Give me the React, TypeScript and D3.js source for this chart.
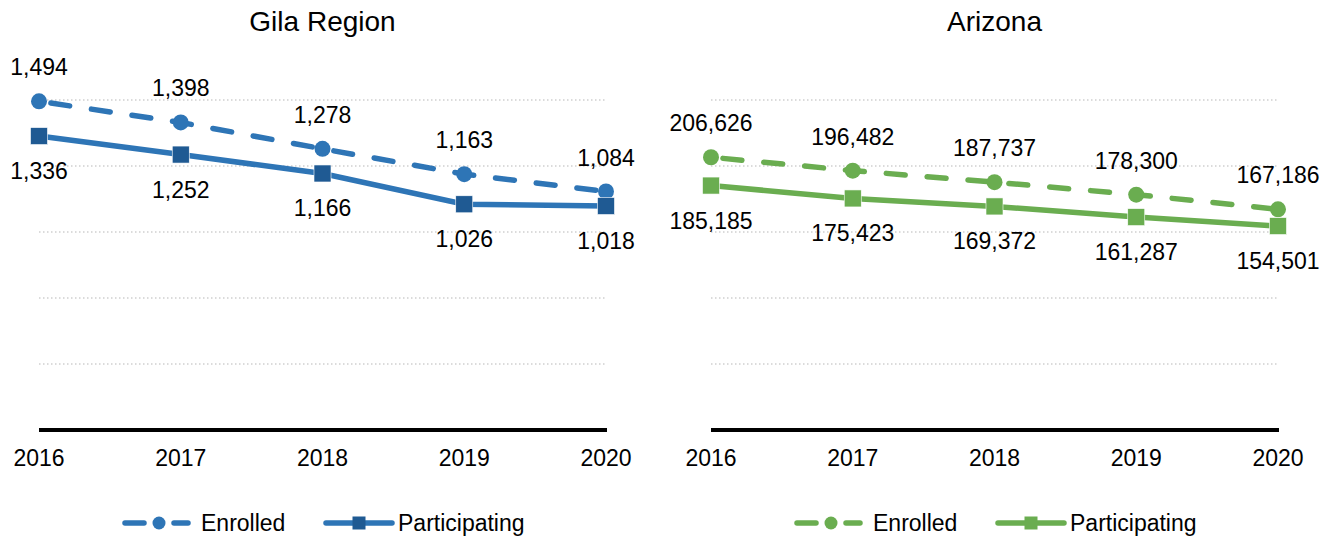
import React from "react";
import * as d3 from "d3";

// values
const years = ["2016", "2017", "2018", "2019", "2020"];
const gilaEnrolled = [1494, 1398, 1278, 1163, 1084];
const gilaParticipating = [1336, 1252, 1166, 1026, 1018];
const azEnrolled = [206626, 196482, 187737, 178300, 167186];
const azParticipating = [185185, 175423, 169372, 161287, 154501];

const FONT = "'Liberation Sans', Arial, sans-serif";
const FS = 23;
const W = 1325;
const H = 540;

interface PanelProps {
    title: string;
    enrolled: number[];
    participating: number[];
    maxY: number;
    left: number;
    right: number;
    lineColor: string;
    squareColor: string;
}

const Panel: React.FC<PanelProps> = ({ title, enrolled, participating, maxY, left, right, lineColor, squareColor }) => {
    const top = 100;
    const bottom = 430;
    const x = d3.scalePoint<string>().domain(years).range([left, right]);
    const y = d3.scaleLinear().domain([0, maxY]).range([bottom, top]);
    const ticks = d3.range(1, 6).map(i => (maxY / 5) * i);
    const fmt = d3.format(",");

    const line = d3.line<number>()
        .x((_, i) => x(years[i]) as number)
        .y(d => y(d));

    const mid = (left + right) / 2;
    // legend positions relative to panel centre
    const lg = mid - 322.5;
    const sq = 13;

    return (
        <g>
            <text x={mid} y={31} textAnchor="middle" fontSize={28} fontFamily={FONT} fill="#000">{title}</text>

            {/* dotted gridlines */}
            {ticks.map(t => (
                <line key={t} x1={left} x2={right} y1={y(t)} y2={y(t)}
                    stroke="#cfcfcf" strokeWidth={1.5} strokeDasharray="1.5,2.5" />
            ))}

            {/* baseline */}
            <line x1={left} x2={right + 1} y1={y(0)} y2={y(0)} stroke="#000" strokeWidth={4} />
            {years.map(yr => (
                <text key={yr} x={x(yr)} y={466} textAnchor="middle" fontSize={FS} fontFamily={FONT} fill="#000">{yr}</text>
            ))}

            {/* enrolled: dashed with circles */}
            <path d={line(enrolled) || ""} fill="none" stroke={lineColor} strokeWidth={5.5}
                strokeDasharray="19,22" strokeLinecap="round" strokeDashoffset={-12} />
            {enrolled.map((v, i) => (
                <circle key={"c" + i} cx={x(years[i])} cy={y(v)} r={8} fill={lineColor} />
            ))}

            {/* participating: solid with squares */}
            <path d={line(participating) || ""} fill="none" stroke={lineColor} strokeWidth={5.5} />
            {participating.map((v, i) => (
                <rect key={"s" + i} x={(x(years[i]) as number) - 8.5} y={y(v) - 8.5} width={17} height={17}
                    fill={squareColor} stroke="#ffffff" strokeWidth={0.6} />
            ))}

            {/* data labels */}
            {enrolled.map((v, i) => (
                <text key={"le" + i} x={x(years[i])} y={y(v) - 26} textAnchor="middle" fontSize={FS} fontFamily={FONT} fill="#000">{fmt(v)}</text>
            ))}
            {participating.map((v, i) => (
                <text key={"lp" + i} x={x(years[i])} y={y(v) + 43} textAnchor="middle" fontSize={FS} fontFamily={FONT} fill="#000">{fmt(v)}</text>
            ))}

            {/* legend */}
            <g>
                <line x1={lg + 125} x2={lg + 144} y1={523} y2={523} stroke={lineColor} strokeWidth={5.5} strokeLinecap="round" />
                <line x1={lg + 174} x2={lg + 188} y1={523} y2={523} stroke={lineColor} strokeWidth={5.5} strokeLinecap="round" />
                <circle cx={lg + 159} cy={523} r={6.5} fill={lineColor} />
                <text x={lg + 201} y={531} fontSize={FS} fontFamily={FONT} fill="#000">Enrolled</text>

                <line x1={lg + 326} x2={lg + 392} y1={523} y2={523} stroke={lineColor} strokeWidth={5.5} strokeLinecap="round" />
                <rect x={lg + 359 - sq / 2} y={523 - sq / 2} width={sq} height={sq} fill={squareColor} />
                <text x={lg + 398} y={531} fontSize={FS} fontFamily={FONT} fill="#000">Participating</text>
            </g>
        </g>
    );
};

export default function App() {
    return (
        <div style={{ position: "absolute", left: 0, top: 0, width: W, height: H, background: "#fff" }}>
            <svg width={W} height={H} style={{ display: "block" }}>
                <rect width={W} height={H} fill="#fff" />
                <Panel title="Gila Region" enrolled={gilaEnrolled} participating={gilaParticipating}
                    maxY={1500} left={39} right={606} lineColor="#2E75B6" squareColor="#1F5A93" />
                <Panel title="Arizona" enrolled={azEnrolled} participating={azParticipating}
                    maxY={250000} left={711} right={1278} lineColor="#6AAD50" squareColor="#6AAD50" />
            </svg>
        </div>
    );
}
